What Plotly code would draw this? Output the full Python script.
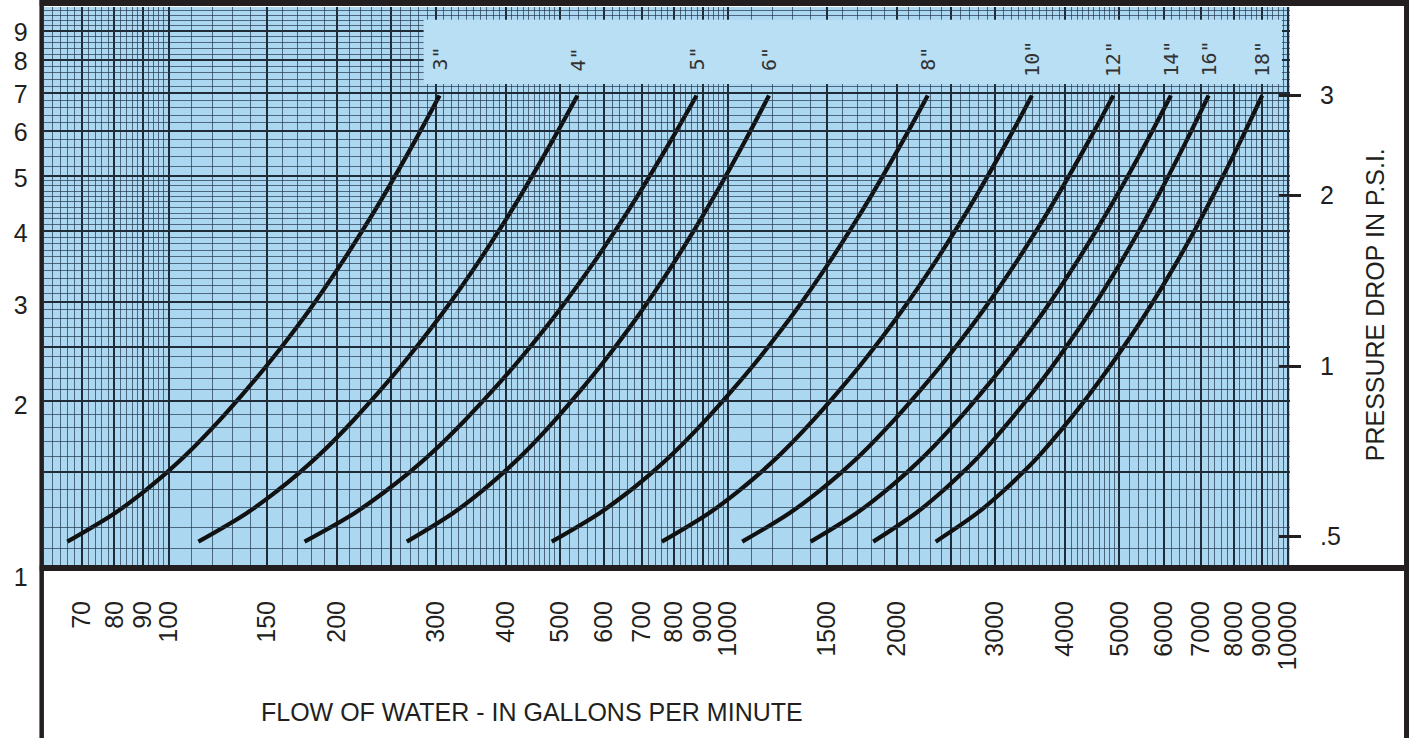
import math
import plotly.graph_objects as go

# ---------------- data ----------------
pipe_sizes = ['3"', '4"', '5"', '6"', '8"', '10"', '12"', '14"', '16"', '18"']
psi_levels = [0.49, 0.55, 0.6, 0.65, 0.7, 0.8, 0.9, 1.0, 1.1, 1.25, 1.5, 1.75, 2.0, 2.5, 3.0]
gpm_3in = [65.9, 80.1, 90.2, 99.4, 107.9, 123.0, 136.7, 149.5, 161.4, 177.9, 202.0, 223.3, 242.4, 275.8, 304.8]
gpm_4in = [113.0, 137.8, 155.5, 171.7, 186.7, 213.3, 237.5, 260.2, 281.2, 310.6, 353.6, 391.6, 425.7, 485.5, 537.6]
gpm_5in = [174.9, 214.7, 243.3, 269.6, 294.0, 337.4, 377.1, 414.4, 449.0, 497.5, 569.0, 632.3, 689.3, 789.7, 877.5]
gpm_6in = [266.4, 321.9, 361.4, 397.2, 430.4, 488.8, 541.6, 591.0, 636.5, 699.8, 792.1, 873.3, 945.8, 1072.4, 1182.2]
gpm_8in = [483.5, 588.4, 663.6, 732.1, 795.6, 908.0, 1010.2, 1105.9, 1194.5, 1318.0, 1499.1, 1659.0, 1802.1, 2053.2, 2271.9]
gpm_10in = [760.7, 922.9, 1038.8, 1144.3, 1241.9, 1414.4, 1570.9, 1717.2, 1852.5, 2040.9, 2316.7, 2559.6, 2776.9, 3157.2, 3487.6]
gpm_12in = [1058.8, 1285.2, 1447.1, 1594.4, 1731.0, 1972.0, 2190.8, 2395.5, 2584.7, 2848.3, 3234.1, 3574.4, 3878.7, 4411.5, 4874.8]
gpm_14in = [1403.3, 1693.7, 1900.4, 2088.0, 2261.2, 2566.3, 2842.2, 3099.5, 3337.0, 3666.8, 4148.0, 4570.9, 4948.0, 5606.5, 6177.0]
gpm_16in = [1815.0, 2162.3, 2407.1, 2627.5, 2830.0, 3183.9, 3501.5, 3796.6, 4066.0, 4438.9, 4978.9, 5449.8, 5867.4, 6591.3, 7213.8]
gpm_18in = [2347.3, 2783.6, 3089.6, 3364.8, 3617.0, 4056.6, 4449.9, 4813.7, 5146.7, 5605.7, 6268.4, 6844.9, 7354.9, 8236.6, 8992.9]

flow_ticks = [70, 80, 90, 100, 150, 200, 300, 400, 500, 600, 700, 800, 900,
              1000, 1500, 2000, 3000, 4000, 5000, 6000, 7000, 8000, 9000, 10000]
psi_ticks = [0.5, 1, 2, 3]
psi_tick_labels = ['.5', '1', '2', '3']
head_ticks = [1, 2, 3, 4, 5, 6, 7, 8, 9]
head_tick_labels = ['1', '2', '3', '4', '5', '6', '7', '8', '9']
FEET_PER_PSI = 2.31
label_psi = 3.48

x_title = 'FLOW OF WATER - IN GALLONS PER MINUTE'
y_title = 'PRESSURE DROP IN P.S.I.'

series = [gpm_3in, gpm_4in, gpm_5in, gpm_6in, gpm_8in,
          gpm_10in, gpm_12in, gpm_14in, gpm_16in, gpm_18in]

# ---------------- styling ----------------
W, H = 1420, 738
INK = '#231f20'
PAPER_BLUE = '#acd7f1'
BAND_BLUE = '#b9dff5'
MAJOR_GRID = '#1f2c38'
MINOR_GRID = 'rgba(35,55,75,0.70)'
FONT = 'Liberation Sans, Arial, sans-serif'

# plot-area in pixels
px_left, px_right = 44, 1300
py_top, py_bot = 7, 565
xdom = [px_left / W, px_right / W]
ydom = [1 - py_bot / H, 1 - py_top / H]

x_range = [1.7766, 4.0035]               # log10 gpm
psi_range = [-0.3510, 0.6332]            # log10 psi
ft_range = [v + math.log10(FEET_PER_PSI) for v in psi_range]

# graph-paper rulings (mantissas within a decade)
major_m = [1, 1.5, 2, 2.5, 3, 4, 5, 6, 7, 8, 9]
minor_m = ([i / 10 for i in range(11, 50) if i not in (15, 20, 25, 30, 40)] +
           [i / 10 for i in range(52, 100, 2) if i not in (60, 70, 80, 90)])


def rulings(mants, lo, hi):
    out = []
    for d in range(-2, 6):
        for m in mants:
            v = m * 10 ** d
            if lo <= v <= hi:
                out.append(v)
    return out


x_lo, x_hi = 10 ** x_range[0], 10 ** x_range[1]
f_lo, f_hi = 10 ** ft_range[0], 10 ** ft_range[1]

fig = go.Figure()

for name, gpm in zip(pipe_sizes, series):
    fig.add_trace(go.Scatter(
        x=gpm, y=psi_levels, mode='lines', name=name,
        line=dict(color='#111111', width=4.2, shape='spline', smoothing=1.0),
        xaxis='x', yaxis='y2', showlegend=False, hoverinfo='x+y+name'))

# helper (empty) traces so that the extra axes are drawn
fig.add_trace(go.Scatter(x=[], y=[], xaxis='x4', yaxis='y', showlegend=False, hoverinfo='skip'))
fig.add_trace(go.Scatter(x=[], y=[], xaxis='x2', yaxis='y3', showlegend=False, hoverinfo='skip'))

tickfont = dict(family=FONT, size=25, color=INK)

fig.update_layout(
    width=W, height=H, autosize=False,
    margin=dict(l=0, r=0, t=0, b=0),
    paper_bgcolor='white',
    plot_bgcolor='rgba(0,0,0,0)',
    showlegend=False,
    xaxis=dict(
        type='log', domain=xdom, range=x_range, anchor='y',
        tickmode='array', tickvals=rulings(major_m, x_lo, x_hi),
        showticklabels=False, ticks='', showline=False, zeroline=False,
        showgrid=True, gridcolor=MAJOR_GRID, gridwidth=1.8,
        minor=dict(tickmode='array', tickvals=rulings(minor_m, x_lo, x_hi),
                   showgrid=True, gridcolor=MINOR_GRID, gridwidth=1, ticks=''),
    ),
    xaxis4=dict(
        type='log', overlaying='x', range=x_range, anchor='y', side='bottom',
        tickmode='array', tickvals=flow_ticks, ticktext=[str(v) for v in flow_ticks],
        tickangle=-90, tickfont=tickfont, ticks='', showgrid=False,
        showline=False, zeroline=False, ticklabelstandoff=30,
    ),
    xaxis2=dict(domain=xdom, range=[0, 1], anchor='y3', visible=False),
    yaxis=dict(
        type='log', domain=ydom, range=ft_range, anchor='x',
        tickmode='array', tickvals=rulings(major_m, f_lo, f_hi),
        showticklabels=False, ticks='', showline=False, zeroline=False,
        showgrid=True, gridcolor=MAJOR_GRID, gridwidth=1.8,
        minor=dict(tickmode='array', tickvals=rulings(minor_m, f_lo, f_hi),
                   showgrid=True, gridcolor=MINOR_GRID, gridwidth=1, ticks=''),
    ),
    yaxis2=dict(
        type='log', overlaying='y', range=psi_range, anchor='free',
        position=1288 / W, side='right',
        tickmode='array', tickvals=psi_ticks, ticktext=psi_tick_labels,
        ticks='outside', ticklen=22, tickwidth=3, tickcolor=INK,
        tickfont=tickfont, showgrid=False, showline=False, zeroline=False,
        ticklabelstandoff=14,
    ),
    yaxis3=dict(
        type='log', domain=[1 - 595 / H, 1 - py_top / H], range=[-0.0303, 0.9977],
        anchor='free', position=40 / W, side='left',
        tickmode='array', tickvals=head_ticks, ticktext=head_tick_labels,
        ticks='', tickfont=tickfont, showgrid=False, showline=False,
        zeroline=False, ticklabelstandoff=12,
    ),
)

shapes = [
    # graph paper
    dict(type='rect', xref='x domain', yref='y domain', x0=0, x1=1, y0=0, y1=1,
         fillcolor=PAPER_BLUE, line=dict(width=0), layer='below'),
    # plain band behind the pipe-size labels
    dict(type='rect', xref='x domain', yref='y domain', x0=0.3049, x1=0.9936,
         y0=0.862, y1=0.977, fillcolor=BAND_BLUE, line=dict(width=0), layer='above'),
    # frame
    dict(type='line', xref='paper', yref='paper', x0=42 / W, x1=42 / W, y0=0, y1=1,
         line=dict(color=INK, width=4.5), layer='above'),
    dict(type='line', xref='paper', yref='paper', x0=40 / W, x1=1, y0=1 - 3 / H, y1=1 - 3 / H,
         line=dict(color=INK, width=6), layer='above'),
    dict(type='line', xref='paper', yref='paper', x0=1417.5 / W, x1=1417.5 / W, y0=0, y1=1,
         line=dict(color=INK, width=5), layer='above'),
    dict(type='line', xref='paper', yref='paper', x0=40 / W, x1=1, y0=1 - 568 / H, y1=1 - 568 / H,
         line=dict(color=INK, width=6), layer='above'),
]
fig.update_layout(shapes=shapes)

annotations = [
    dict(text=x_title, xref='paper', yref='paper', x=536 / W, y=1 - 712 / H,
         showarrow=False, xanchor='center', yanchor='middle',
         font=dict(family=FONT, size=25, color=INK)),
    dict(text=y_title, xref='paper', yref='paper', x=1386 / W, y=1 - 305 / H,
         showarrow=False, xanchor='center', yanchor='middle', textangle=-90,
         font=dict(family=FONT, size=25, color=INK)),
]
for name, gpm in zip(pipe_sizes, series):
    annotations.append(dict(
        text=name, xref='x', yref='y2', x=math.log10(gpm[-1]), y=math.log10(label_psi),
        showarrow=False, textangle=-90, xanchor='center', yanchor='middle',
        font=dict(family='DejaVu Sans Mono, monospace', size=20, color='#333333')))
fig.update_layout(annotations=annotations)

post = ("var gd=document.getElementById('{plot_id}');"
        "gd.style.position='fixed';gd.style.left='0px';gd.style.top='0px';"
        "document.body.style.margin='0px';")
fig.write_html('out.html', config={'displayModeBar': False, 'responsive': False},
               post_script=post)
